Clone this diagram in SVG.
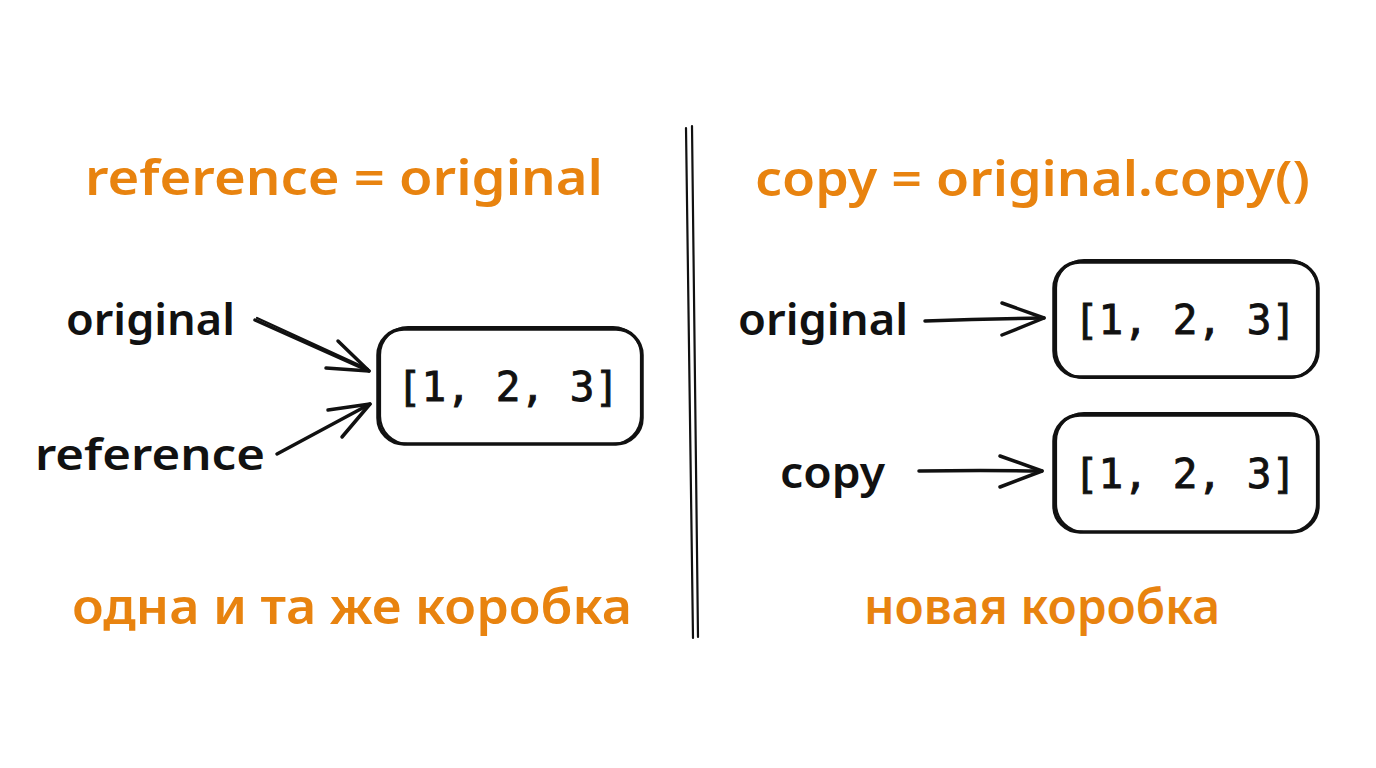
<svg xmlns="http://www.w3.org/2000/svg" width="1376" height="768" viewBox="0 0 1376 768">
  <style>
    .title { font-family: "Noto Sans", "Liberation Sans", sans-serif; font-size: 48px; fill: #e8830f; font-weight: 600; }
    .label { font-family: "Noto Sans", "Liberation Sans", sans-serif; font-size: 44px; fill: #111111; font-weight: 600; }
    .val { font-family: "DejaVu Sans Mono", "Liberation Mono", monospace; font-size: 41px; fill: #111111; stroke: #111111; stroke-width: 0.9; }
    .sk { fill: none; stroke: #111111; stroke-width: 3.5; stroke-linecap: round; stroke-linejoin: round; }
    .sk2 { fill: none; stroke: #111111; stroke-width: 2.2; stroke-linecap: round; stroke-linejoin: round; }
  </style>
  <rect width="1376" height="768" fill="#ffffff"/>

  <g id="divider">
    <path class="sk2" d="M686 128 L693 638"/>
    <path class="sk2" d="M692 126 L698 637"/>
  </g>

  <g id="title-left">
    <text class="title" x="85" y="195" textLength="518" lengthAdjust="spacingAndGlyphs">reference = original</text>
  </g>
  <g id="title-right">
    <text class="title" x="755" y="196" textLength="555" lengthAdjust="spacingAndGlyphs">copy = original.copy()</text>
  </g>

  <g id="label-original-left">
    <text class="label" x="66" y="335" textLength="169" lengthAdjust="spacingAndGlyphs">original</text>
  </g>
  <g id="label-reference">
    <text class="label" x="35" y="470" textLength="230" lengthAdjust="spacingAndGlyphs">reference</text>
  </g>

  <g id="box-shared">
    <rect class="sk" x="378" y="329" width="264" height="115" rx="26"/>
    <rect class="sk2" x="380" y="327" width="261" height="117" rx="28"/>
    <text class="val" x="508" y="401" text-anchor="middle">[1, 2, 3]</text>
  </g>

  <g id="label-original-right">
    <text class="label" x="738" y="335" textLength="170" lengthAdjust="spacingAndGlyphs">original</text>
  </g>
  <g id="label-copy">
    <text class="label" x="780" y="488" textLength="105" lengthAdjust="spacingAndGlyphs">copy</text>
  </g>

  <g id="box-original">
    <rect class="sk" x="1054" y="262" width="264" height="115" rx="26"/>
    <rect class="sk2" x="1056" y="260" width="261" height="118" rx="28"/>
    <text class="val" x="1185" y="334" text-anchor="middle">[1, 2, 3]</text>
  </g>
  <g id="box-copy">
    <rect class="sk" x="1054" y="415" width="264" height="117" rx="26"/>
    <rect class="sk2" x="1056" y="413" width="261" height="119" rx="28"/>
    <text class="val" x="1185" y="488" text-anchor="middle">[1, 2, 3]</text>
  </g>

  <g id="connectors">
    <path class="sk" d="M255 320 L369 371"/>
    <path class="sk2" d="M257 318 L368 369"/>
    <path class="sk" d="M338 341 L369 371 L326 368"/>
    <path class="sk" d="M277 454 L370 404"/>
    <path class="sk" d="M328 410 L370 404 L342 437"/>
    <path class="sk" d="M925 321 Q985 319 1044 318"/>
    <path class="sk" d="M1002 303 L1044 318 L1002 335"/>
    <path class="sk" d="M919 471 Q980 470 1042 471"/>
    <path class="sk" d="M1000 456 L1042 471 L1000 487"/>
  </g>

  <g id="caption-left">
    <text class="title" x="72" y="624" textLength="560" lengthAdjust="spacingAndGlyphs">одна и та же коробка</text>
  </g>
  <g id="caption-right">
    <text class="title" x="864" y="624" textLength="356" lengthAdjust="spacingAndGlyphs">новая коробка</text>
  </g>
</svg>
